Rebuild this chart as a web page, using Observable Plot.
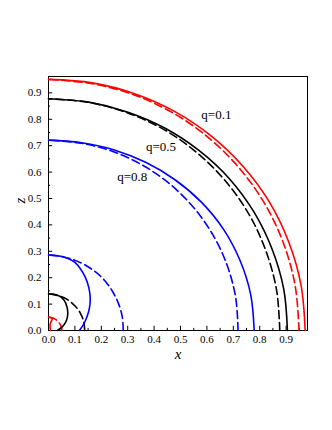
<!DOCTYPE html>
<html>
<head>
<meta charset="utf-8">
<script src="https://cdn.jsdelivr.net/npm/d3@7"></script>
<script src="https://cdn.jsdelivr.net/npm/@observablehq/plot@0.6"></script>
<style>
  html, body { margin: 0; padding: 0; background: white; }
  svg, svg text { font-family: "Liberation Serif", "DejaVu Serif", serif !important; }
</style>
</head>
<body>
<div id="chart"></div>
<script>
// Tick values
const xMajor = [0, 0.1, 0.2, 0.3, 0.4, 0.5, 0.6, 0.7, 0.8, 0.9];
const xMinor = [0.05, 0.15, 0.25, 0.35, 0.45, 0.55, 0.65, 0.75, 0.85, 0.95];
const zMajor = [0, 0.1, 0.2, 0.3, 0.4, 0.5, 0.6, 0.7, 0.8, 0.9];
const zMinor = [0.05, 0.15, 0.25, 0.35, 0.45, 0.55, 0.65, 0.75, 0.85, 0.95];

// Labels (q value, x, z)
const qLabels = ["q=0.1", "q=0.5", "q=0.8"];
const qLabelX = [0.636, 0.426, 0.317];
const qLabelZ = [0.818, 0.694, 0.581];

// Curves: [x, z] pairs
// q = 0.1 (red)
const redOuterSolid = [[0.972,0],[0.957,0.169],[0.911,0.332],[0.838,0.484],[0.738,0.620],[0.617,0.736],[0.479,0.829],[0.326,0.897],[0.165,0.938],[0,0.951]];
const redOuterDashed = [[0.949,0],[0.935,0.165],[0.892,0.325],[0.822,0.475],[0.727,0.610],[0.610,0.727],[0.475,0.822],[0.325,0.892],[0.165,0.935],[0,0.951]];
const redInnerSolid = [[0,0.050],[0.008,0.049],[0.014,0.046],[0.013,0.040],[0.009,0.032],[0.006,0.022],[0.006,0.012],[0.007,0.004],[0.008,0]];
const redInnerDashed = [[0.050,0],[0.049,0.009],[0.047,0.017],[0.043,0.025],[0.038,0.032],[0.032,0.038],[0.025,0.043],[0.017,0.047],[0.009,0.049],[0,0.050]];
// q = 0.5 (black)
const blackOuterSolid = [[0.905,0],[0.891,0.157],[0.847,0.308],[0.778,0.449],[0.685,0.575],[0.571,0.681],[0.442,0.766],[0.301,0.827],[0.152,0.865],[0,0.878]];
const blackOuterDashed = [[0.876,0],[0.864,0.152],[0.824,0.300],[0.760,0.439],[0.672,0.564],[0.564,0.672],[0.439,0.760],[0.300,0.824],[0.152,0.864],[0,0.878]];
const blackInnerSolid = [[0,0.139],[0.025,0.136],[0.045,0.128],[0.060,0.113],[0.069,0.093],[0.073,0.070],[0.071,0.048],[0.063,0.028],[0.050,0.012],[0.034,0]];
const blackInnerDashed = [[0.137,0],[0.135,0.024],[0.129,0.047],[0.119,0.069],[0.105,0.088],[0.088,0.105],[0.069,0.119],[0.047,0.129],[0.024,0.135],[0,0.139]];
// q = 0.8 (blue)
const blueOuterSolid = [[0.779,0],[0.766,0.135],[0.726,0.264],[0.663,0.383],[0.579,0.486],[0.479,0.571],[0.368,0.637],[0.249,0.684],[0.125,0.711],[0,0.721]];
const blueOuterDashed = [[0.718,0],[0.709,0.125],[0.677,0.246],[0.624,0.360],[0.552,0.463],[0.463,0.552],[0.360,0.624],[0.246,0.677],[0.125,0.709],[0,0.721]];
const blueInnerSolid = [[0,0.286],[0.035,0.283],[0.070,0.275],[0.100,0.258],[0.122,0.232],[0.140,0.200],[0.152,0.165],[0.158,0.125],[0.155,0.085],[0.145,0.050],[0.132,0.022],[0.117,0]];
const blueInnerDashed = [[0.283,0],[0.280,0.049],[0.267,0.097],[0.246,0.142],[0.218,0.183],[0.183,0.218],[0.142,0.246],[0.097,0.267],[0.049,0.280],[0,0.286]];

const serif = "Liberation Serif, DejaVu Serif, serif";
const dash = "8,4";

function curve(data, color, dashed) {
  return Plot.line(data, {
    x: d => d[0], y: d => d[1],
    stroke: color, strokeWidth: 1.6,
    strokeDasharray: dashed ? dash : null,
    curve: "catmull-rom"
  });
}

const chart = Plot.plot({
  width: 332,
  height: 430,
  marginLeft: 48,
  marginRight: 25,
  marginTop: 76,
  marginBottom: 100,
  style: { fontFamily: serif, fontSize: "11px", background: "white", color: "black", overflow: "visible" },
  x: { domain: [0, 0.981] },
  y: { domain: [0, 0.962] },
  marks: [
    Plot.frame({ stroke: "black", strokeWidth: 1 }),
    Plot.axisX(xMajor, { tickSize: 0, tickPadding: 5, label: null, fontSize: 11, fontFamily: serif }),
    Plot.axisY(zMajor, { tickSize: 0, tickPadding: 7, label: null, fontSize: 11, fontFamily: serif }),
    Plot.ruleX(xMajor, { x: d => d, y1: 0, y2: 0.016, stroke: "black" }),
    Plot.ruleX(xMinor, { x: d => d, y1: 0, y2: 0.008, stroke: "black" }),
    Plot.ruleY(zMajor, { y: d => d, x1: 0, x2: 0.016, stroke: "black" }),
    Plot.ruleY(zMinor, { y: d => d, x1: 0, x2: 0.008, stroke: "black" }),
    curve(redOuterSolid, "#ff0000", false),
    curve(redOuterDashed, "#ff0000", true),
    curve(redInnerSolid, "#ff0000", false),
    curve(redInnerDashed, "#ff0000", true),
    curve(blackOuterSolid, "#000000", false),
    curve(blackOuterDashed, "#000000", true),
    curve(blackInnerSolid, "#000000", false),
    curve(blackInnerDashed, "#000000", true),
    curve(blueOuterSolid, "#0000ff", false),
    curve(blueOuterDashed, "#0000ff", true),
    curve(blueInnerSolid, "#0000ff", false),
    curve(blueInnerDashed, "#0000ff", true),
    Plot.text(qLabels, { x: (d, i) => qLabelX[i], y: (d, i) => qLabelZ[i], text: d => d, fontSize: 13, fontFamily: serif, fill: "black" }),
    Plot.text(["x"], { frameAnchor: "bottom", dy: 28, text: d => d, fontSize: 15, fontStyle: "italic", fontFamily: serif }),
    Plot.text(["z"], { frameAnchor: "left", dx: -28, rotate: -90, text: d => d, fontSize: 15, fontStyle: "italic", fontFamily: serif })
  ]
});
document.getElementById("chart").appendChild(chart);
</script>
</body>
</html>
